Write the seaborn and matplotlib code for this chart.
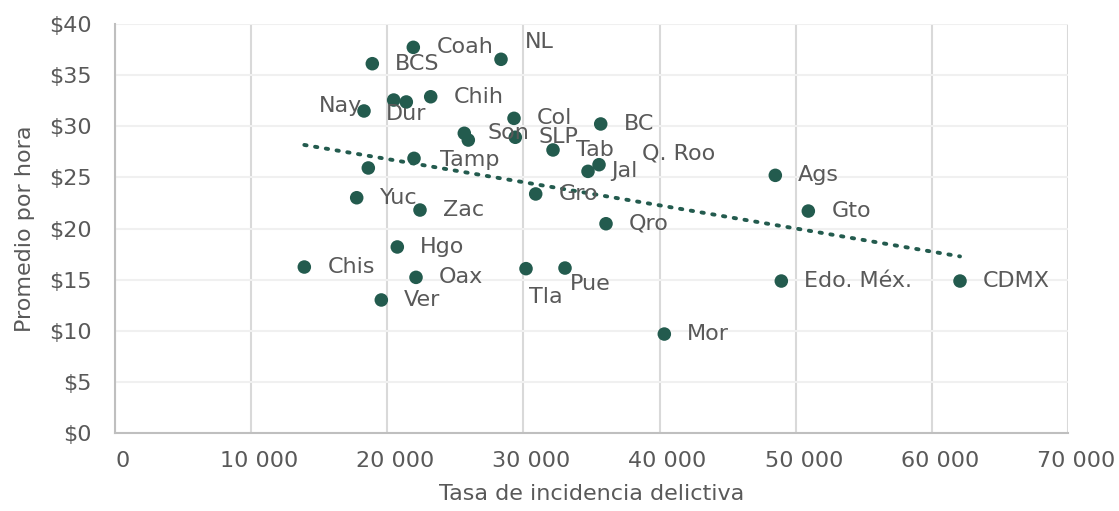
import numpy as np
import pandas as pd
import matplotlib.pyplot as plt
import matplotlib.transforms as mtransforms
from matplotlib.ticker import FuncFormatter, MultipleLocator
import seaborn as sns

# --- DATA ---
states = ["Coah", "NL", "BCS", "Nay", "", "Dur", "Chih", "Col", "BC", "Son",
          "", "SLP", "Tab", "Q. Roo", "Jal", "Tamp", "", "Yuc", "Zac", "Gro",
          "Qro", "Hgo", "Chis", "Oax", "Ver", "Tla", "Pue", "Mor", "Ags", "Gto",
          "Edo. Méx.", "CDMX"]
incidencia = [21911, 28353, 18900, 18290, 20471, 21397, 23189, 29308, 35677, 25657,
              25951, 29403, 32173, 35552, 34744, 21963, 18606, 17754, 22403, 30902,
              36066, 20736, 13905, 22110, 19561, 30190, 33054, 40348, 48502, 50926,
              48942, 62068]
promedio = [37.72, 36.55, 36.12, 31.50, 32.57, 32.38, 32.89, 30.78, 30.23, 29.32,
            28.66, 28.93, 27.69, 26.25, 25.60, 26.87, 25.93, 23.02, 21.82, 23.39,
            20.48, 18.21, 16.25, 15.24, 13.03, 16.09, 16.15, 9.70, 25.21, 21.72,
            14.88, 14.88]

# label offsets in pixels (dx, dy), default is to the right of the marker
label_offsets = {"NL": (24, 17), "Nay": (-2, 5), "Dur": (-20, -12), "Q. Roo": (43, 11),
                 "Tamp": (26, -2), "Tla": (3, -28), "Pue": (5, -16)}

GREEN = "#235B4E"
GREY_TXT = "#595959"
FS = 16

df = pd.DataFrame({"Estado": states, "Incidencia": incidencia, "Promedio": promedio})

sns.set_theme(style="white")
plt.rcParams["font.family"] = ["DejaVu Sans"]

fig = plt.figure(figsize=(11.19, 5.11), dpi=100)
ax = fig.add_axes([115 / 1119, 1 - 433.3 / 511, (1068 - 115) / 1119, (433.3 - 24) / 511])

ax.set_xlim(0, 70000)
ax.set_ylim(0, 40)
ax.xaxis.set_major_locator(MultipleLocator(10000))
ax.yaxis.set_major_locator(MultipleLocator(5))
ax.grid(axis="y", color="#f0f0f0", linewidth=1.5)
ax.grid(axis="x", color="#d9d9d9", linewidth=1.5)
ax.set_axisbelow(True)

sns.regplot(data=df, x="Incidencia", y="Promedio", scatter=False, ci=None, ax=ax,
            line_kws={"color": GREEN, "linestyle": (0, (0.6, 2.2)), "linewidth": 2.8,
                      "dash_capstyle": "round"})
sns.scatterplot(data=df, x="Incidencia", y="Promedio", color=GREEN, s=95,
                edgecolor="none", ax=ax, zorder=3)

for name, xv, yv in zip(states, incidencia, promedio):
    if not name:
        continue
    dx, dy = label_offsets.get(name, (23, 0))
    ha = "right" if name == "Nay" else "left"
    ax.annotate(name, (xv, yv), xytext=(dx, dy), textcoords="offset pixels",
                ha=ha, va="center", fontsize=FS, color=GREY_TXT, zorder=4)

ax.xaxis.set_major_formatter(FuncFormatter(lambda v, p: f"{int(v):,}".replace(",", " ")))
ax.yaxis.set_major_formatter(FuncFormatter(lambda v, p: f"${int(v)}"))
ax.tick_params(axis="both", length=0, labelsize=FS, colors=GREY_TXT)
ax.tick_params(axis="x", pad=13)
ax.tick_params(axis="y", pad=17)
shift = mtransforms.ScaledTranslation(8 / 100, 0, fig.dpi_scale_trans)
for lbl in ax.get_xticklabels():
    lbl.set_transform(lbl.get_transform() + shift)

ax.set_xlabel("Tasa de incidencia delictiva", fontsize=FS, color=GREY_TXT, labelpad=9)
ax.set_ylabel("Promedio por hora", fontsize=FS, color=GREY_TXT, labelpad=10)

for side in ["top", "right"]:
    ax.spines[side].set_visible(False)
for side in ["left", "bottom"]:
    ax.spines[side].set_color("#bfbfbf")
    ax.spines[side].set_linewidth(1.5)

plt.savefig("out.png", dpi=100)
